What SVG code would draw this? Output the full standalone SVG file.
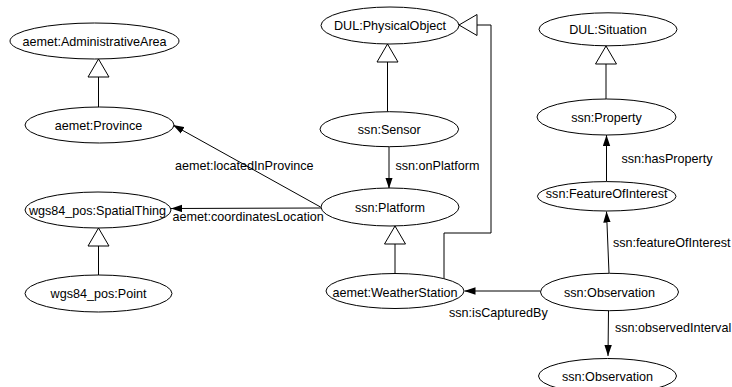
<svg xmlns="http://www.w3.org/2000/svg" width="732" height="387" viewBox="0 0 732 387">
<style>
.n ellipse{fill:#fff;stroke:#000;stroke-width:1}
text{font-family:"Liberation Sans",Arial,sans-serif;font-size:12.6px;fill:#000}
.n text{text-anchor:middle}
.e path{fill:none;stroke:#000;stroke-width:1}
.inh{marker-end:url(#inh)}
.arr{marker-end:url(#arr)}
</style>
<defs>
<marker id="inh" markerUnits="userSpaceOnUse" viewBox="0 0 20 24" markerWidth="20" markerHeight="24" refX="19" refY="12" orient="auto"><path d="M19,12 L1,1.5 L1,22.5 Z" fill="#fff" stroke="#000" stroke-width="1"/></marker>
<marker id="arr" markerUnits="userSpaceOnUse" viewBox="0 0 11 8" markerWidth="11" markerHeight="8" refX="11" refY="4" orient="auto"><path d="M0,0.3 L11,4 L0,7.7 Z" fill="#000"/></marker>
</defs>
<rect width="732" height="387" fill="#fff"/>
<g class="e" id="edges">
<path class="inh" d="M98.5,107 L98.5,59"/>
<path class="inh" d="M387.5,111.5 L387.5,44"/>
<path class="inh" d="M606,99 L606,46"/>
<path class="inh" d="M98.5,275 L98.5,228"/>
<path class="inh" d="M395,273.5 L395,226"/>
<path class="inh" d="M444,278.7 L444,233 L491,233 L491,25 L459,25"/>
<path class="arr" d="M389,147 L389,188.5"/>
<path class="arr" d="M320.5,207 L173,125"/>
<path class="arr" d="M321,208 L171,208.5"/>
<path class="arr" d="M540.5,291 L464.5,291"/>
<path class="arr" d="M609,273 L606.5,211.5"/>
<path class="arr" d="M606.5,181.5 L606.5,135"/>
<path class="arr" d="M608.5,310.5 L608,356"/>
<text x="175" y="170">aemet:locatedInProvince</text>
<text x="172.5" y="221">aemet:coordinatesLocation</text>
<text x="395.5" y="170">ssn:onPlatform</text>
<text x="449" y="317">ssn:isCapturedBy</text>
<text x="621.5" y="163">ssn:hasProperty</text>
<text x="613" y="247">ssn:featureOfInterest</text>
<text x="615" y="331.5">ssn:observedInterval</text>
</g>
<g class="n" id="n_adminarea"><ellipse cx="94.5" cy="41" rx="84.5" ry="18"/><text x="94.5" y="45.5">aemet:AdministrativeArea</text></g>
<g class="n" id="n_province"><ellipse cx="99.5" cy="125" rx="74.5" ry="18"/><text x="98.5" y="129.5">aemet:Province</text></g>
<g class="n" id="n_physobj"><ellipse cx="390" cy="25.5" rx="69" ry="18.5"/><text x="390" y="30">DUL:PhysicalObject</text></g>
<g class="n" id="n_sensor"><ellipse cx="389.3" cy="129.2" rx="69.3" ry="17.5"/><text x="389.3" y="133.5">ssn:Sensor</text></g>
<g class="n" id="n_situation"><ellipse cx="608" cy="29.3" rx="69" ry="16.5"/><text x="608" y="33.5">DUL:Situation</text></g>
<g class="n" id="n_property"><ellipse cx="606.5" cy="117" rx="69.5" ry="18"/><text x="606.5" y="121.5">ssn:Property</text></g>
<g class="n" id="n_foi"><ellipse cx="606.7" cy="196.3" rx="69.3" ry="14.7"/><text x="606.7" y="197.5">ssn:FeatureOfInterest</text></g>
<g class="n" id="n_spatial"><ellipse cx="98" cy="210" rx="73" ry="18"/><text x="97.5" y="214.5">wgs84_pos:SpatialThing</text></g>
<g class="n" id="n_point"><ellipse cx="98.5" cy="293.5" rx="73.5" ry="18.5"/><text x="98.5" y="298">wgs84_pos:Point</text></g>
<g class="n" id="n_platform"><ellipse cx="390" cy="207" rx="69" ry="19"/><text x="390" y="211.5">ssn:Platform</text></g>
<g class="n" id="n_weather"><ellipse cx="395" cy="291" rx="69" ry="17.5"/><text x="395" y="296.5">aemet:WeatherStation</text></g>
<g class="n" id="n_obs"><ellipse cx="609.5" cy="292" rx="69" ry="18.7"/><text x="609.5" y="296.5">ssn:Observation</text></g>
<g class="n" id="n_obs2"><ellipse cx="607.5" cy="376" rx="69" ry="17.5"/><text x="607.5" y="380.5">ssn:Observation</text></g>
</svg>
